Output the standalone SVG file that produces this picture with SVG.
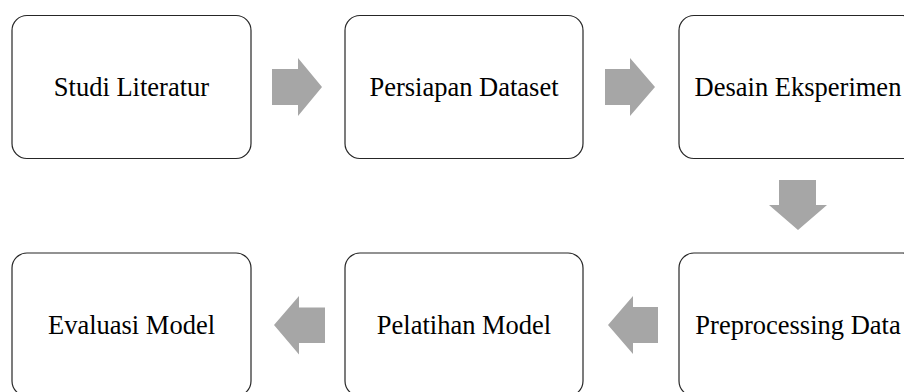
<svg xmlns="http://www.w3.org/2000/svg" width="904" height="392" viewBox="0 0 904 392">
<style>
.box{fill:#fff;stroke:#262626;stroke-width:1.2}
.lbl{font-family:"Liberation Serif","Times New Roman",serif;font-size:26.5px;fill:#000;text-anchor:middle}
.arr{fill:#a6a6a6}
</style>
<rect width="904" height="392" fill="#fff"/>
<g id="n1"><rect class="box" x="12" y="15.5" width="239" height="143" rx="15"/><text class="lbl" x="131.5" y="96">Studi Literatur</text></g>
<g id="n2"><rect class="box" x="345" y="15.5" width="238" height="143" rx="15"/><text class="lbl" x="464" y="96">Persiapan Dataset</text></g>
<g id="n3"><rect class="box" x="679" y="15.5" width="239" height="143" rx="15"/><text class="lbl" x="798" y="96">Desain Eksperimen</text></g>
<g id="n4"><rect class="box" x="679" y="253" width="239" height="143" rx="15"/><text class="lbl" x="798" y="334">Preprocessing Data</text></g>
<g id="n5"><rect class="box" x="345" y="253" width="238" height="143" rx="15"/><text class="lbl" x="464" y="334">Pelatihan Model</text></g>
<g id="n6"><rect class="box" x="12" y="253" width="239" height="143" rx="15"/><text class="lbl" x="131.5" y="334">Evaluasi Model</text></g>
<g id="connectors">
<polygon class="arr" points="272,69 298,69 298,58 322,87 298,116 298,105 272,105"/>
<polygon class="arr" points="605,69 630,69 630,58 655,87 630,116 630,105 605,105"/>
<polygon class="arr" points="779,180 816,180 816,205 827,205 798,230 769,205 779,205"/>
<polygon class="arr" points="658,307 633,307 633,296 608,325 633,354 633,343 658,343"/>
<polygon class="arr" points="325,307.5 299,307.5 299,296 274,325 299,354.5 299,343 325,343"/>
</g>
</svg>
